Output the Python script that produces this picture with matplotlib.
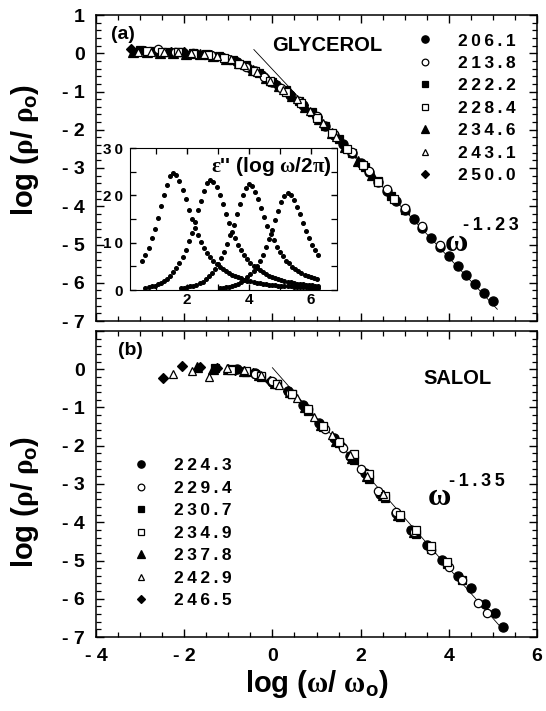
import matplotlib
matplotlib.use("Agg")
import matplotlib.pyplot as plt
from matplotlib.ticker import MultipleLocator, FuncFormatter
import numpy as np

# ---------------- data ----------------
# (a) glycerol: log(rho/rho0) vs log(w/w0), one list pair per temperature
GLY_TEMPS = ["206.1", "213.8", "222.2", "228.4", "234.6", "243.1", "250.0"]

g206_x = [-0.8, -0.4, 0.0, 0.4, 0.7, 1.0, 1.2, 1.4, 1.6, 1.8, 2.0, 2.2, 2.4, 2.6,
          2.8, 3.0, 3.2, 3.4, 3.6, 3.8, 4.0, 4.2, 4.4, 4.6, 4.8, 5.0]
g206_y = [-0.23, -0.47, -0.76, -1.08, -1.36, -1.66, -1.90, -2.13, -2.37, -2.62, -2.86,
          -3.11, -3.36, -3.60, -3.85, -4.09, -4.33, -4.58, -4.83, -5.07, -5.30, -5.56,
          -5.80, -6.03, -6.27, -6.47]
g213_x = [-2.6, -2.2, -1.8, -1.4, -1.0, -0.6, -0.2, 0.2, 0.6, 1.0, 1.4, 1.8, 2.2,
          2.6, 3.0, 3.4, 3.8]
g213_y = [0.10, 0.02, 0.0, -0.04, -0.16, -0.36, -0.62, -0.92, -1.24, -1.64, -2.10,
          -2.58, -3.08, -3.56, -4.05, -4.52, -5.0]
g222_x = [-3.0, -2.7, -2.4, -2.1, -1.8, -1.5, -1.2, -0.9, -0.6, -0.3, 0.0, 0.3, 0.6,
          0.9, 1.2, 1.5, 1.8, 2.1, 2.4, 2.7, 3.0]
g222_y = [0.08, 0.06, 0.03, 0.02, 0.0, -0.03, -0.08, -0.18, -0.32, -0.52, -0.74,
          -0.96, -1.24, -1.54, -1.89, -2.24, -2.61, -2.98, -3.35, -3.72, -4.09]
g228_x = [-2.85, -2.5, -2.15, -1.8, -1.45, -1.1, -0.75, -0.4, -0.05, 0.3, 0.65, 1.0,
          1.35, 1.7, 2.05, 2.4, 2.75]
g228_y = [0.05, 0.03, 0.02, -0.01, -0.05, -0.13, -0.27, -0.47, -0.72, -1.0, -1.31,
          -1.68, -2.08, -2.51, -2.93, -3.37, -3.8]
g234_x = [-3.15, -2.85, -2.55, -2.25, -1.95, -1.65, -1.35, -1.05, -0.75, -0.45, -0.15,
          0.15, 0.45, 0.75, 1.05, 1.35, 1.65, 1.95, 2.25]
g234_y = [0.02, 0.03, 0.01, 0.0, -0.01, -0.03, -0.07, -0.15, -0.26, -0.43, -0.64,
          -0.86, -1.12, -1.40, -1.72, -2.08, -2.45, -2.81, -3.18]
g243_x = [-3.05, -2.75, -2.45, -2.15, -1.85, -1.55, -1.25, -0.95, -0.65, -0.35, -0.05,
          0.25, 0.55, 0.85, 1.15, 1.45]
g243_y = [0.04, 0.04, 0.03, 0.02, 0.0, -0.03, -0.07, -0.16, -0.31, -0.50, -0.73,
          -0.96, -1.20, -1.50, -1.83, -2.18]
g250_x = [-3.2, -2.9, -2.6, -2.3, -2.0, -1.7, -1.4, -1.1, -0.8, -0.5, -0.2, 0.1, 0.4,
          0.7, 1.0]
g250_y = [0.10, 0.06, 0.04, 0.03, 0.02, -0.01, -0.05, -0.12, -0.23, -0.40, -0.60,
          -0.83, -1.06, -1.36, -1.66]

GLY_X = [g206_x, g213_x, g222_x, g228_x, g234_x, g243_x, g250_x]
GLY_Y = [g206_y, g213_y, g222_y, g228_y, g234_y, g243_y, g250_y]
GLY_FIT_X = [-0.42, 5.1]
GLY_FIT_SLOPE = -1.23
GLY_FIT_B = -0.42

# (b) salol
SAL_TEMPS = ["224.3", "229.4", "230.7", "234.9", "237.8", "242.9", "246.5"]

s224_x = [-0.8, -0.4, 0.0, 0.35, 0.7, 1.05, 1.4, 1.75, 2.1, 2.45, 2.8, 3.15, 3.5,
          3.85, 4.2, 4.5, 4.82, 5.05, 5.24]
s224_y = [0.0, -0.11, -0.34, -0.56, -0.94, -1.40, -1.81, -2.26, -2.72, -3.25, -3.75,
          -4.19, -4.60, -4.99, -5.40, -5.73, -6.14, -6.38, -6.73]
s229_x = [-0.4, 0.0, 0.4, 0.8, 1.2, 1.6, 2.0, 2.4, 2.8, 3.2, 3.6, 4.0, 4.3, 4.67, 4.86]
s229_y = [-0.12, -0.32, -0.62, -1.05, -1.55, -2.06, -2.60, -3.17, -3.72, -4.25, -4.73,
          -5.17, -5.50, -6.12, -6.38]
s230_x = [-1.3, -0.95, -0.6, -0.25, 0.1, 0.45, 0.8, 1.15, 1.5, 1.85, 2.2, 2.55, 2.9,
          3.25, 3.6, 3.95, 4.3]
s230_y = [0.03, 0.0, -0.07, -0.19, -0.39, -0.66, -1.08, -1.50, -1.93, -2.37, -2.86,
          -3.36, -3.86, -4.30, -4.71, -5.10, -5.50]
s234_x = [-0.95, -0.6, -0.25, 0.1, 0.45, 0.8, 1.15, 1.5, 1.85, 2.2, 2.55, 2.9, 3.25,
          3.6, 3.95]
s234_y = [-0.01, -0.04, -0.17, -0.38, -0.64, -1.05, -1.48, -1.90, -2.22, -2.75, -3.31,
          -3.80, -4.20, -4.62, -5.05]
s237_x = [-1.7, -1.35, -1.0, -0.65, -0.3, 0.05, 0.4, 0.75, 1.1, 1.45, 1.8, 2.15, 2.5,
          2.85, 3.2]
s237_y = [0.05, 0.0, 0.01, -0.05, -0.15, -0.35, -0.60, -1.00, -1.45, -1.87, -2.31,
          -2.79, -3.30, -3.80, -4.25]
s242_x = [-2.25, -1.83, -1.43, -1.04, -0.65, -0.25, 0.15, 0.55, 0.95, 1.35, 1.75,
          2.15, 2.5]
s242_y = [-0.12, -0.04, -0.21, 0.03, -0.03, -0.16, -0.42, -0.76, -1.25, -1.73, -2.24,
          -2.79, -3.27]
s246_x = [-2.47, -2.04, -1.64, -1.26, -0.85, -0.45, -0.05, 0.35, 0.75, 1.15, 1.55]
s246_y = [-0.22, 0.09, 0.07, 0.03, -0.02, -0.10, -0.30, -0.57, -1.00, -1.50, -1.99]

SAL_X = [s224_x, s229_x, s230_x, s234_x, s237_x, s242_x, s246_x]
SAL_Y = [s224_y, s229_y, s230_y, s234_y, s237_y, s242_y, s246_y]
SAL_FIT_X = [0.0, 5.2]
SAL_FIT_SLOPE = -1.31
SAL_FIT_B = 0.04

# inset: eps'' vs log(w/2pi), four spectra on a 0.1-decade frequency grid
INSET_F0 = [0.55, 0.65, 1.8, 3.05]
INSET_STEP = 0.1
eps1 = [6.2, 7.4, 8.9, 10.9, 12.8, 15.3, 17.8, 20.0, 22.2, 24.0, 24.7, 24.2, 23.0,
        21.2, 19.3, 17.0, 15.1, 13.1, 11.6, 10.1, 8.9, 7.9, 6.9, 6.2, 5.4, 4.9, 4.4,
        4.0, 3.6, 3.2, 3.0, 2.7, 2.5, 2.2, 2.0, 1.85, 1.7, 1.55, 1.43, 1.33, 1.24,
        1.16, 1.09, 1.02, 0.94, 0.89, 0.84, 0.79, 0.74, 0.69, 0.64, 0.6, 0.57, 0.53,
        0.49, 0.47, 0.44, 0.42]
eps2 = [0.51, 0.63, 0.77, 0.93, 1.17, 1.51, 1.86, 2.33, 3.03, 3.73, 4.66, 5.8, 7.0,
        8.4, 10.3, 12.1, 14.4, 16.8, 18.9, 21.0, 22.6, 23.3, 22.8, 21.7, 20.0, 18.2,
        16.1, 14.2, 12.3, 11.0, 9.6, 8.4, 7.5, 6.5, 5.8, 5.1, 4.7, 4.2, 3.7, 3.4, 3.0,
        2.8, 2.56, 2.33, 2.1, 1.91, 1.75, 1.61, 1.47, 1.35, 1.26, 1.17, 1.09, 1.03,
        0.96, 0.89, 0.84]
eps3 = [0.40, 0.49, 0.60, 0.74, 0.89, 1.12, 1.45, 1.78, 2.23, 2.90, 3.57, 4.46, 5.58,
        6.7, 8.0, 9.8, 11.6, 13.8, 16.1, 18.1, 20.1, 21.6, 22.3, 21.9, 20.7, 19.2,
        17.4, 15.4, 13.6, 11.8, 10.5, 9.1, 8.0, 7.1, 6.2, 5.6, 4.9, 4.5, 4.0, 3.6,
        3.2, 2.9, 2.7, 2.45, 2.23]
eps4 = [0.37, 0.45, 0.55, 0.68, 0.82, 1.03, 1.33, 1.64, 2.05, 2.67, 3.28, 4.10, 5.13,
        6.2, 7.4, 9.0, 10.7, 12.7, 14.8, 16.6, 18.5, 19.9, 20.5, 20.1, 19.1, 17.6,
        16.0, 14.1, 12.5, 10.9, 9.6, 8.4, 7.4]
INSET_EPS = [eps1, eps2, eps3, eps4]

# ---------------- style ----------------
MARKERS = ["o", "o", "s", "s", "^", "^", "D"]
FILLED = [True, False, True, False, True, False, True]
MSIZE = [6.6, 6.0, 6.0, 6.0, 6.6, 6.0, 5.4]
THIN = "\u2009"

plt.rcParams.update({
    "font.family": ["Liberation Sans", "DejaVu Sans"],
    "font.weight": "bold",
    "font.size": 13,
    "axes.linewidth": 1.1,
    "mathtext.fontset": "custom",
    "mathtext.rm": "Liberation Serif",
    "mathtext.it": "Liberation Serif:bold",
    "mathtext.bf": "Liberation Sans:bold",
    "mathtext.sf": "Liberation Sans:bold",
    "xtick.direction": "in",
    "ytick.direction": "in",
    "xtick.top": True,
    "ytick.right": True,
    "xtick.major.size": 6,
    "ytick.major.size": 6,
    "xtick.minor.size": 3.5,
    "ytick.minor.size": 3.5,
    "xtick.major.width": 1.0,
    "ytick.major.width": 1.0,
    "xtick.minor.width": 0.9,
    "ytick.minor.width": 0.9,
})

W, H = 546, 711
fig = plt.figure(figsize=(W / 100, H / 100), dpi=100)
ax_a = fig.add_axes([96 / W, 1 - 321 / H, 441 / W, 306 / H])
ax_b = fig.add_axes([96 / W, 1 - 637 / H, 441 / W, 306 / H])


def ylab_fmt(v, pos, hide_top=False):
    v = int(round(v))
    if hide_top and v > 0:
        return ""
    return f"- {-v}" if v < 0 else f"{v}"


def xlab_fmt(v, pos):
    v = int(round(v))
    return f"- {-v}" if v < 0 else f"{v}"


def spaced(s):
    return THIN.join(s)


def draw_panel(ax, xs, ys, temps, fit_x, slope, b):
    handles = []
    for i in range(len(temps)):
        face = "black" if FILLED[i] else "white"
        h, = ax.plot(xs[i], ys[i], linestyle="none", marker=MARKERS[i], ms=MSIZE[i],
                     mfc=face, mec="black", mew=0.9, zorder=3 + (0 if FILLED[i] else 1))
        handles.append(h)
    fx = np.array(fit_x)
    ax.plot(fx, b + slope * fx, color="black", lw=0.6, zorder=2)
    ax.set_xlim(-4, 6)
    ax.set_ylim(-7, 1)
    ax.xaxis.set_major_locator(MultipleLocator(2))
    ax.xaxis.set_minor_locator(MultipleLocator(0.5))
    ax.yaxis.set_major_locator(MultipleLocator(1))
    ax.yaxis.set_minor_locator(MultipleLocator(0.2))
    ax.tick_params(axis="both", which="major", labelsize=14, pad=8)
    ax.set_ylabel(r"log ($\rho$/ $\rho_{\mathsf{o}}$)", fontsize=21, fontweight="bold")
    labels = [spaced(t) for t in temps]
    return handles, labels


LEG_KW = dict(loc="upper left", frameon=False, fontsize=12.5, handlelength=1.0,
              handletextpad=1.4, labelspacing=0.42, borderpad=0, borderaxespad=0,
              markerscale=0.8)

# ---- panel (a) ----
h, l = draw_panel(ax_a, GLY_X, GLY_Y, GLY_TEMPS, GLY_FIT_X, GLY_FIT_SLOPE, GLY_FIT_B)
ax_a.tick_params(axis="x", labelbottom=False)
ax_a.yaxis.set_major_formatter(FuncFormatter(ylab_fmt))
ax_a.yaxis.set_label_coords(-0.125, 0.56)
ax_a.legend(h, l, bbox_to_anchor=(0.726, 0.94), **LEG_KW)
ax_a.text(0.035, 0.935, "(a)", transform=ax_a.transAxes, fontsize=14, va="center")
ax_a.text(1.24, 0.2, "GLYCEROL", fontsize=14.5, ha="center", va="center")
ax_a.text(4.16, -4.95, r"$\mathrm{\omega}$", fontsize=23, ha="center", va="center")
ax_a.text(4.33, -4.5, spaced("-1.23"), fontsize=13, ha="left", va="center")

# ---- panel (b) ----
h, l = draw_panel(ax_b, SAL_X, SAL_Y, SAL_TEMPS, SAL_FIT_X, SAL_FIT_SLOPE, SAL_FIT_B)
ax_b.yaxis.set_major_formatter(FuncFormatter(lambda v, p: ylab_fmt(v, p, True)))
ax_b.xaxis.set_major_formatter(FuncFormatter(xlab_fmt))
ax_b.yaxis.set_label_coords(-0.125, 0.44)
ax_b.set_xlabel(r"log ($\omega$/ $\omega_{\mathsf{o}}$)", fontsize=21, fontweight="bold")
ax_b.xaxis.set_label_coords(0.5, -0.1)
ax_b.legend(h, l, bbox_to_anchor=(0.082, 0.584), **LEG_KW)
ax_b.text(0.05, 0.935, "(b)", transform=ax_b.transAxes, fontsize=14, va="center")
ax_b.text(4.2, -0.24, "SALOL", fontsize=14.5, ha="center", va="center")
ax_b.text(3.79, -3.35, r"$\mathrm{\omega}$", fontsize=23, ha="center", va="center")
ax_b.text(4.0, -2.94, spaced("-1.35"), fontsize=13, ha="left", va="center")

# ---- inset ----
ax_in = fig.add_axes([130 / W, 1 - 290 / H, 207 / W, 142 / H], zorder=5)
for f0, eps in zip(INSET_F0, INSET_EPS):
    lf = f0 + INSET_STEP * np.arange(len(eps))
    ax_in.plot(lf, eps, linestyle="none", marker="o", ms=2.6, color="black")
ax_in.set_xlim(0.15, 6.85)
ax_in.set_ylim(0, 30)
ax_in.xaxis.set_major_locator(MultipleLocator(2))
ax_in.xaxis.set_minor_locator(MultipleLocator(1))
ax_in.yaxis.set_major_locator(MultipleLocator(10))
ax_in.yaxis.set_minor_locator(MultipleLocator(5))
ax_in.tick_params(which="major", length=4, labelsize=11)
ax_in.tick_params(which="minor", length=4)
ax_in.tick_params(axis="y", pad=5)
ax_in.tick_params(axis="x", pad=2)
ax_in.xaxis.set_major_formatter(FuncFormatter(lambda v, p: "" if v < 1 else f"{int(v)}"))
ax_in.yaxis.set_major_formatter(FuncFormatter(lambda v, p: spaced(f"{int(v)}")))
for sp in ax_in.spines.values():
    sp.set_linewidth(0.8)
ax_in.text(0.975, 0.87, r"$\mathrm{\varepsilon}$'' (log $\mathrm{\omega}$/2$\mathrm{\pi}$)",
           transform=ax_in.transAxes, fontsize=15, ha="right", va="center")

fig.savefig("out.png", dpi=100)
